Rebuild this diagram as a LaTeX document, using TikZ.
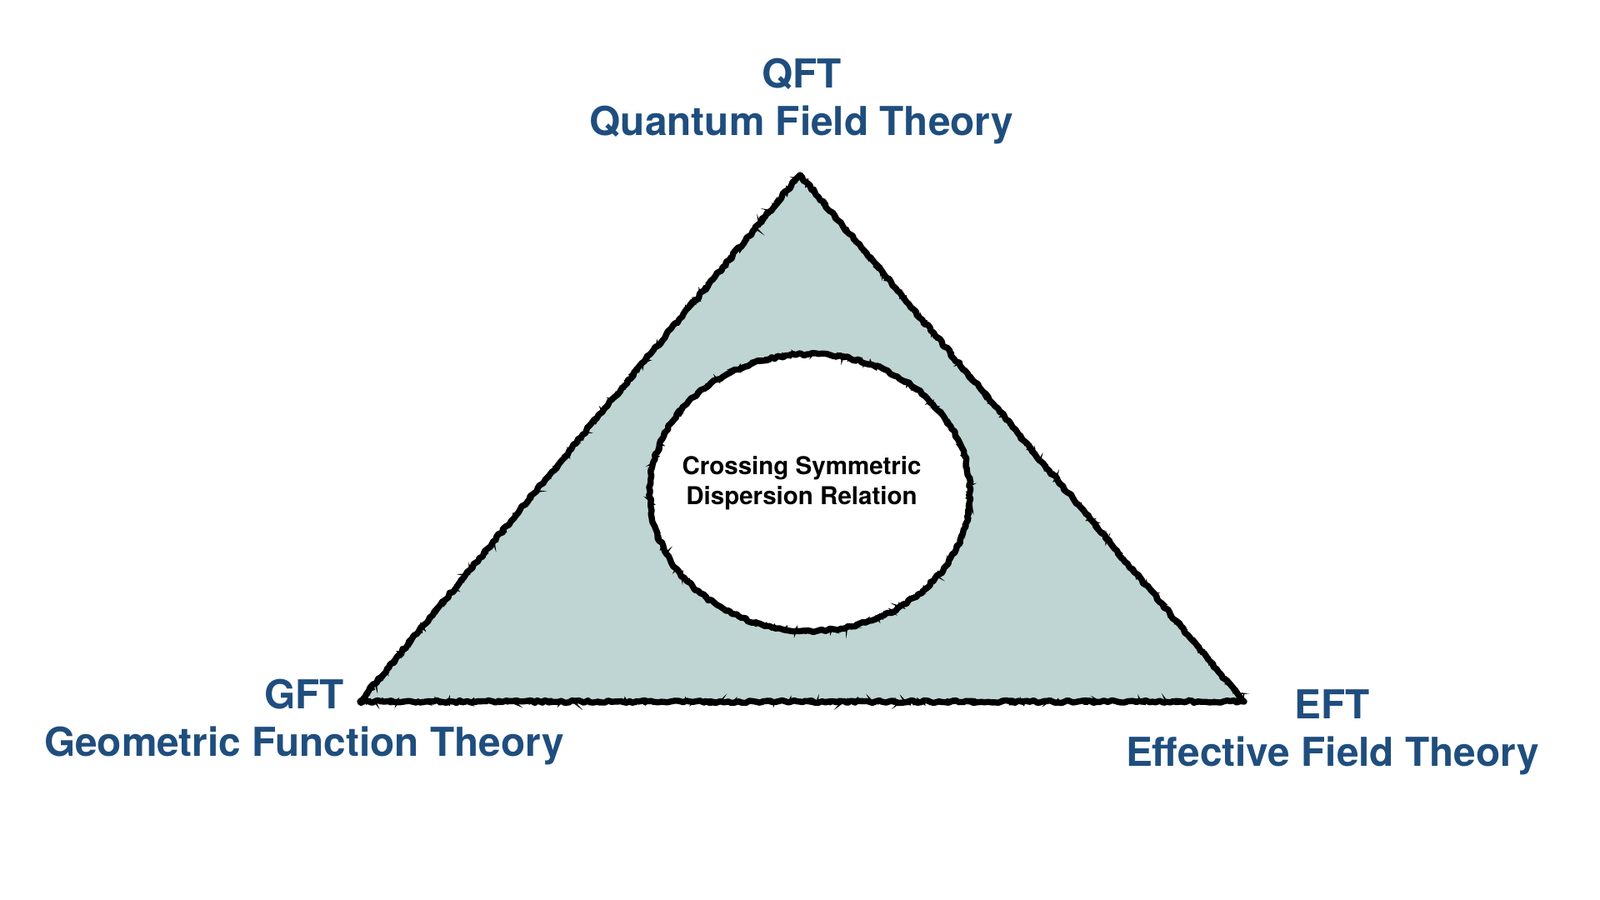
\documentclass[tikz,border=0pt]{standalone}
\usepackage{fontspec}
\setmainfont{TeX Gyre Heros}
\usetikzlibrary{positioning, decorations.pathmorphing}
\definecolor{theoryblue}{HTML}{1F4E7E}
\definecolor{sage}{HTML}{BED5D3}
\tikzset{
  corner/.style={inner sep=0pt, anchor=north, align=center, text=theoryblue, font=\fontsize{13.6}{16.2}\selectfont\bfseries},
  core/.style={inner sep=0pt, anchor=north, align=center, font=\fontsize{8.4}{10.2}\selectfont\bfseries},
  sketch/.style={draw=black, line width=2.1pt, line join=round, decorate, decoration={random steps, segment length=1.2pt, amplitude=0.45pt}},
  rough/.style={draw=black, line width=0.6pt, decorate, decoration={random steps, segment length=0.7pt, amplitude=1pt}},
}

\begin{document}
\begin{tikzpicture}
  \useasboundingbox (0,0) rectangle (19.2,10.8);
  \coordinate (top) at (9.60,8.70);
  \coordinate (left) at (4.32,2.38);
  \coordinate (right) at (14.93,2.38);
  \coordinate (mid) at (9.72,4.89);

  % triangle
  \fill[sage] (top) -- (right) -- (left) -- cycle;
  \path[sketch] (top) -- (right) -- (left) -- cycle;
  \path[rough] (top) -- (right) -- (left) -- cycle;

  % inner ellipse
  \fill[white] (mid) ellipse [x radius=1.92, y radius=1.66];
  \path[sketch] (mid) ellipse [x radius=1.92, y radius=1.66];
  \path[rough] (mid) ellipse [x radius=1.92, y radius=1.66];

  \node[corner] (qft) at (9.62,10.11) {QFT\\Quantum Field Theory};
  \node[corner] (gft) at (3.65,2.66) {GFT\\Geometric Function Theory};
  \node[corner] (eft) at (15.99,2.53) {EFT\\Effective Field Theory};
  \node[core] (csdr) at (9.62,5.33) {Crossing Symmetric\\Dispersion Relation};
\end{tikzpicture}
\end{document}
